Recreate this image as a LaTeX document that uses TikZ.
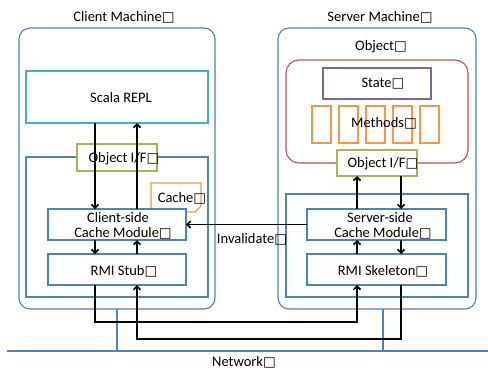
\documentclass[tikz,border=0pt]{standalone}
\usepackage{fontspec}
\setmainfont{Carlito}
\newfontfamily\dvs{DejaVu Sans}
\usetikzlibrary{arrows.meta,calc}
\newcommand{\bx}{{\dvs\fontsize{13.5}{13.5}\selectfont □}}
\definecolor{cblue}{HTML}{4F81BD}
\definecolor{cteal}{HTML}{4BACC6}
\definecolor{cgreen}{HTML}{9BBB59}
\definecolor{corange}{HTML}{F79646}
\definecolor{cred}{HTML}{C0504D}
\definecolor{cpurple}{HTML}{8064A2}
\begin{document}
\begin{tikzpicture}[x=1pt,y=-1pt,
  font=\fontsize{14.5}{15}\selectfont,
  shp/.style={draw=#1, line width=1.1pt, fill=white, inner sep=0pt, outer sep=0pt},
  lbl/.style={inner sep=0pt, align=center, font=\fontsize{14.5}{15}\selectfont},
  arr/.style={line width=1.7pt, -{Straight Barb[length=3.5pt,width=7pt]}},
  ln/.style={line width=1.7pt},
  net/.style={draw=cblue, line width=1.1pt}]
\useasboundingbox (0,0) rectangle (488,372);
% machines
\node[shp=cblue, rounded corners=11pt, minimum width=196, minimum height=281] (cm) at (117,168.5) {};
\node[shp=cblue, rounded corners=11pt, minimum width=198, minimum height=281] (sm) at (377,168.5) {};
% client parts
\node[shp=cteal, minimum width=182, minimum height=52] (repl) at (117,97) {};
\node[shp=cblue, minimum width=182, minimum height=140] (cin) at (117,227) {};
\node[shp=cgreen, minimum width=80, minimum height=27] (cif) at (117,157.5) {};
\draw[corange, line width=1.1pt, fill=white] (151,183) -- (201,183) -- (201,206) -- (195,212) -- (151,212) -- cycle;
\node[shp=cblue, minimum width=138, minimum height=31] (cs) at (117,224.5) {};
\node[shp=cblue, minimum width=138, minimum height=31] (stub) at (117,269.5) {};
% server parts
\node[shp=cred, rounded corners=13pt, minimum width=182, minimum height=103] (obj) at (377,111.5) {};
\node[shp=cpurple, minimum width=108, minimum height=31] (state) at (377,83.5) {};
\foreach \i in {0,...,4}{
  \node[shp=corange, minimum width=19, minimum height=37] (m\i) at ({321.5+27*\i},124.5) {};
}
\node[shp=cblue, minimum width=182, minimum height=103] (sin) at (377,245.5) {};
\node[shp=cgreen, minimum width=80, minimum height=26] (sif) at (377,163) {};
\node[shp=cblue, minimum width=139, minimum height=31] (ss) at (376.5,224.5) {};
\node[shp=cblue, minimum width=139, minimum height=31] (skel) at (376.5,269.5) {};
% labels
\node[lbl] (tcm) at (124,17) {Client Machine\bx};
\node[lbl] (tsm) at (380,17) {Server Machine\bx};
\node[lbl] (trepl) at (121,98) {Scala REPL};
\node[lbl] (tcif) at (124,159) {Object I/F\bx};
\node[lbl] (tcache) at (182,198) {Cache\bx};
\node[lbl] (tcs1) at (118,218) {Client-side};
\node[lbl] (tcs2) at (123,233) {Cache Module\bx};
\node[lbl] (tstub) at (124,271) {RMI Stub\bx};
\node[lbl] (tobj) at (381,47) {Object\bx};
\node[lbl] (tstate) at (383,84) {State\bx};
\node[lbl] (tmeth) at (384,123) {Methods\bx};
\node[lbl] (tsif) at (383,164) {Object I/F\bx};
\node[lbl] (tss1) at (380,218) {Server-side};
\node[lbl] (tss2) at (383,233) {Cache Module\bx};
\node[lbl] (tskel) at (383,271) {RMI Skeleton\bx};
\node[lbl] (tinv) at (252,239) {Invalidate\bx};
\node[lbl] (tnet) at (244,362) {Network\bx};
% x positions
\coordinate (cl) at (95,0);
\coordinate (cr) at (137,0);
\coordinate (sl) at (357,0);
\coordinate (sr) at (401,0);
\coordinate (nd) at (383,0);
\coordinate (y1) at (0,322);
\coordinate (y2) at (0,339);
\coordinate (n0) at (7,351);
\coordinate (n1) at (488,351);
% network
\draw[net] (n0) -- (n1);
\draw[net] (cm.south) -- (cm.south |- n0);
\draw[net] (sm.south -| nd) -- (nd |- n0);
% client arrows
\draw[arr] (repl.south -| cl) -- (cs.north -| cl);
\draw[arr] (cs.north -| cr) -- (repl.south -| cr);
\draw[arr] (cs.south -| cl) -- (stub.north -| cl);
\draw[arr] (stub.north -| cr) -- (cs.south -| cr);
% server arrows
\draw[arr] (ss.north -| sl) -- (sif.south -| sl);
\draw[arr] (sif.south -| sr) -- (ss.north -| sr);
\draw[arr] (skel.north -| sl) -- (ss.south -| sl);
\draw[arr] (ss.south -| sr) -- (skel.north -| sr);
% invalidate
\draw[arr] (ss.west) -- (cs.east);
% network links
\draw[arr] (stub.south -| cl) -- (cl |- y1) -- (sl |- y1) -- (skel.south -| sl);
\draw[arr] (skel.south -| sr) -- (sr |- y2) -- (cr |- y2) -- (stub.south -| cr);
\end{tikzpicture}
\end{document}
